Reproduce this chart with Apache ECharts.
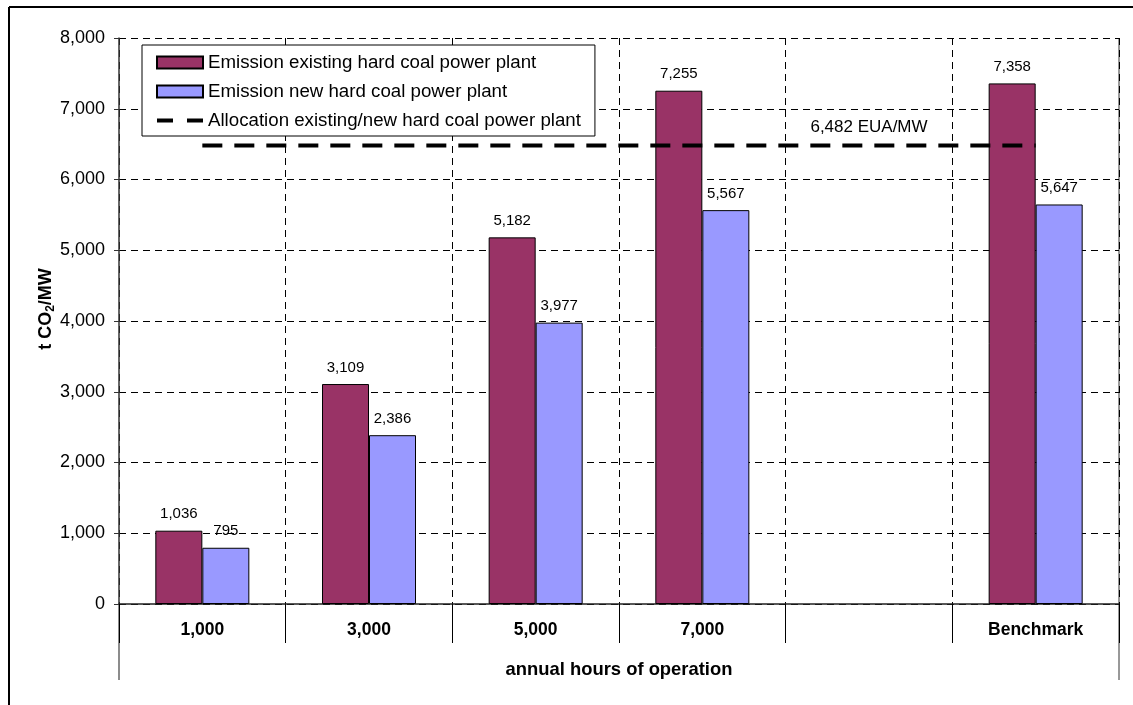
<!DOCTYPE html>
<html lang="en">
<head>
<meta charset="UTF-8">
<title>Hard coal power plant emissions</title>
<script src="https://cdn.jsdelivr.net/npm/echarts@6/dist/echarts.min.js"></script>
<style>
  html, body { margin: 0; padding: 0; background: #fff; }
  #main { width: 1133px; height: 705px; }
</style>
</head>
<body>
<div id="main"></div>
<script>
// data
var categories = ['1,000', '3,000', '5,000', '7,000', '', 'Benchmark'];
var existingPlant = [1036, 3109, 5182, 7255, '-', 7358];
var newPlant = [795, 2386, 3977, 5567, '-', 5647];
var allocation = [6482, 6482, 6482, 6482, 6482, 6482];
var allocationLabel = '6,482 EUA/MW';
var yTicks = { min: 0, max: 8000, step: 1000 };

var seriesNames = [
  'Emission existing hard coal power plant',
  'Emission new hard coal power plant',
  'Allocation existing/new hard coal power plant'
];

function fmt(v) {
  return String(v).replace(/\B(?=(\d{3})+(?!\d))/g, ',');
}

var myChart = echarts.init(document.getElementById('main'));

var font = 'Arial, "Liberation Sans", sans-serif';

var valueLabel = {
  show: true, position: 'top', distance: 9, fontSize: 15, color: '#000', fontFamily: font,
  formatter: function (p) { return fmt(p.value); }
};

var option = {
  animation: false,
  textStyle: { fontFamily: font, color: '#000' },
  grid: { left: 119, right: 14, top: 38, bottom: 101 },
  legend: {
    orient: 'vertical',
    left: 142,
    top: 45,
    padding: [8, 14, 6, 14],
    itemGap: 10,
    itemWidth: 46,
    itemHeight: 12,
    symbolKeepAspect: true,
    backgroundColor: '#fff',
    borderColor: '#000',
    borderWidth: 1,
    borderRadius: 0,
    textStyle: { fontSize: 18.7, color: '#000', fontFamily: font },
    data: [
      { name: seriesNames[0], icon: 'rect' },
      { name: seriesNames[1], icon: 'rect' },
      { name: seriesNames[2], icon: 'path://M0,0h16v4h-16z M30,0h16v4h-16z' }
    ]
  },
  xAxis: {
    type: 'category',
    data: categories,
    axisLine: { lineStyle: { color: '#222', width: 1.5 } },
    axisTick: { show: true, length: 39, interval: 0, lineStyle: { color: '#000' } },
    axisLabel: { interval: 0, fontSize: 17.5, fontWeight: 'bold', color: '#000', margin: 17, fontFamily: font },
    splitLine: { show: true, interval: 0, lineStyle: { color: '#000', type: [7, 5], width: 1 } },
    name: 'annual hours of operation',
    nameLocation: 'middle',
    nameGap: 57,
    nameMoveOverlap: false,
    nameTextStyle: { fontSize: 18.4, fontWeight: 'bold', color: '#000', fontFamily: font }
  },
  yAxis: {
    type: 'value',
    min: yTicks.min,
    max: yTicks.max,
    interval: yTicks.step,
    axisLine: { show: true, lineStyle: { color: '#333', width: 1.5 } },
    axisTick: { show: true, length: 5, lineStyle: { color: '#333' } },
    axisLabel: { fontSize: 18, color: '#000', margin: 14, formatter: fmt, fontFamily: font },
    splitLine: { show: true, lineStyle: { color: '#000', type: [7, 5], width: 1 } },
    name: '{a|t CO}{s|2}{a|/MW}',
    nameLocation: 'middle',
    nameGap: 62,
    nameMoveOverlap: false,
    nameTextStyle: {
      padding: [0, 0, 0, 24],
      rich: {
        a: { fontSize: 18, fontWeight: 'bold', color: '#000', fontFamily: font },
        s: { fontSize: 12, fontWeight: 'bold', color: '#000', fontFamily: font, padding: [9, 0, 0, 0] }
      }
    }
  },
  series: [
    {
      name: seriesNames[0],
      type: 'bar',
      data: existingPlant,
      barWidth: 47,
      barGap: '0%',
      itemStyle: { color: '#993366', borderColor: '#000', borderWidth: 1 },
      label: valueLabel
    },
    {
      name: seriesNames[1],
      type: 'bar',
      data: newPlant,
      barWidth: 47,
      barGap: '0%',
      itemStyle: { color: '#9999FF', borderColor: '#000', borderWidth: 1 },
      label: valueLabel
    },
    {
      name: seriesNames[2],
      type: 'line',
      data: allocation.map(function (v, i) {
        return i === 4
          ? { value: v, label: { show: true, position: 'top', distance: 10, fontSize: 17, color: '#000', fontFamily: font, formatter: allocationLabel } }
          : v;
      }),
      symbol: 'circle',
      symbolSize: 0,
      z: 5,
      itemStyle: { color: '#000' },
      lineStyle: { color: '#000', width: 4, type: [20, 12] },
      label: { show: false }
    }
  ],
  graphic: [
    { type: 'line', shape: { x1: 9, y1: 7, x2: 1133, y2: 7 }, style: { stroke: '#000', lineWidth: 2 } },
    { type: 'line', shape: { x1: 9, y1: 7, x2: 9, y2: 705 }, style: { stroke: '#000', lineWidth: 2 } },
    { type: 'line', shape: { x1: 119, y1: 604, x2: 119, y2: 680 }, style: { stroke: '#666', lineWidth: 1.5 } },
    { type: 'line', shape: { x1: 1119, y1: 38, x2: 1119, y2: 680 }, style: { stroke: '#333', lineWidth: 1 } }
  ]
};

myChart.setOption(option);
</script>
</body>
</html>
